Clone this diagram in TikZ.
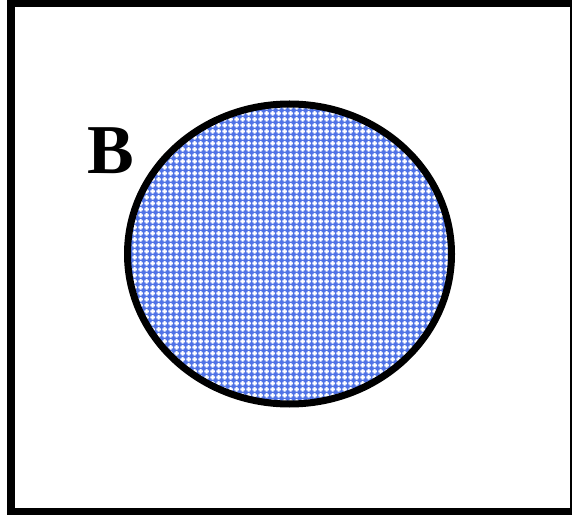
\documentclass[tikz,border=0pt]{standalone}
\usepackage{fontspec}
\setmainfont{Liberation Serif}
\usepackage{tikz}
\usetikzlibrary{patterns}

% white plus signs on a 6pt grid
\pgfdeclarepatternformonly{wcross}{\pgfpointorigin}{\pgfpoint{6pt}{6pt}}{\pgfpoint{6pt}{6pt}}{
  \pgfpathrectangle{\pgfpoint{1.9pt}{0.4pt}}{\pgfpoint{2.2pt}{5.2pt}}
  \pgfpathrectangle{\pgfpoint{0.4pt}{1.9pt}}{\pgfpoint{5.2pt}{2.2pt}}
  \pgfusepath{fill}}

\begin{document}
\begin{tikzpicture}[x=1pt, y=-1pt,
  frame/.style={draw=black, line width=7.5pt},
  setb/.style={fill={rgb,255:red,80;green,115;blue,230}},
  cross fill/.style={pattern=wcross, pattern color=white}]
\useasboundingbox (0,0) rectangle (572,518);
% universe
\draw[frame] (11,3) rectangle (573.5,511.5);
% set B
\path[setb] (289.5,254) ellipse [x radius=162, y radius=150];
\fill[cross fill] (289.5,254) ellipse [x radius=162, y radius=150];
\draw[black, line width=7pt] (289.5,254) ellipse [x radius=162, y radius=150];
\node (lblB) at (111,151) {\fontsize{70}{70}\selectfont\bfseries B};
\end{tikzpicture}
\end{document}
